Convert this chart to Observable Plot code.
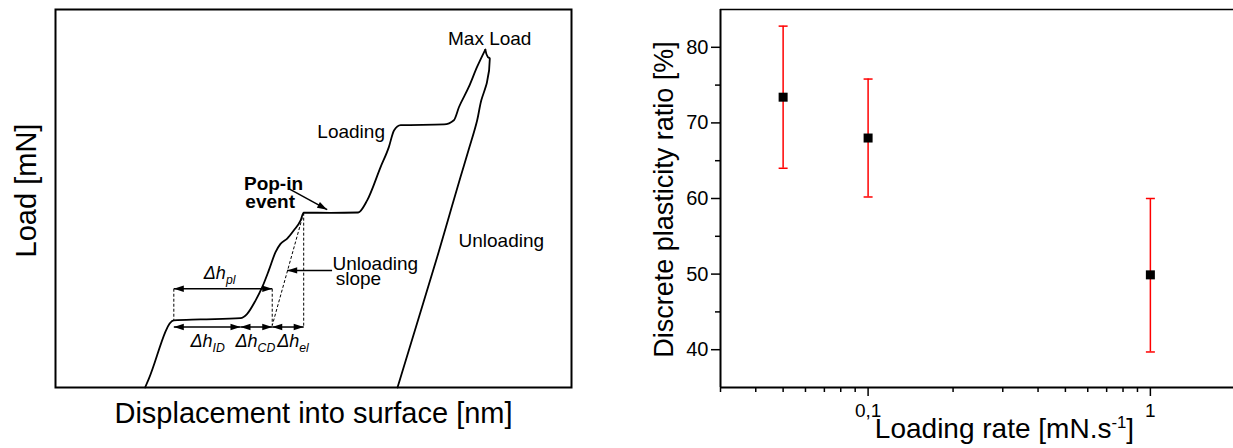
<!DOCTYPE html>
<html><head><meta charset="utf-8">
<script src="https://cdn.jsdelivr.net/npm/d3@7"></script>
<script src="https://cdn.jsdelivr.net/npm/@observablehq/plot@0.6"></script>
<style>
html,body{margin:0;padding:0;background:#fff;overflow:hidden}
#wrap{position:relative;width:1233px;height:448px}
#left,#right{position:absolute;top:0}
#left{left:0}
#right{left:620px}
</style></head><body>
<div id="wrap"><div id="left"></div><div id="right"></div></div>
<script>
// ---------- Left panel: schematic load–displacement curve (arbitrary units 0–100) ----------
const loadDisp = [17.36, 18.08, 22.93, 28.1, 35.85, 37.15, 38.76, 40.06, 41.34, 42.64, 43.6, 44.9, 46.2, 47.5, 48.1, 53.3, 58.66, 60.4, 63.0, 64.6, 65.6, 66.9, 75.3, 77.2, 78.2, 80.1, 81.7, 83.3];
const loadLoad = [0, 2.3, 17.74, 18.0, 18.35, 19.5, 23.0, 26.55, 30.98, 35.8, 38.0, 39.4, 41.6, 44.2, 46.25, 46.2, 46.3, 49.5, 58.3, 63.6, 68.0, 69.4, 69.6, 70.7, 74.2, 79.5, 84.8, 89.4];
const unloadDisp = [83.3, 83.78, 84.17, 83.6, 82.52, 81.72, 80.04, 78.49, 76.26, 73.97, 70.06, 66.28];
const unloadLoad = [89.4, 87.45, 87.03, 80.6, 75.99, 70.69, 62.75, 55.68, 45.27, 34.5, 16.94, 0];

// dashed construction lines
const guideX1 = [22.93, 42.0, 48.1, 48.1];
const guideY1 = [26.13, 26.13, 46.25, 46.25];
const guideX2 = [22.93, 42.0, 48.1, 42.0];
const guideY2 = [17.74, 16.4, 16.0, 16.4];

// double-headed dimension arrows
const dblArrowX1 = [22.93, 22.93, 35.85, 42.0];
const dblArrowX2 = [42.0, 35.85, 42.0, 48.1];
const dblArrowY  = [26.13, 16.0, 16.0, 16.0];

// single arrows (pointer to pop-in, pointer to unloading slope)
const arrowX1 = [45.2, 53.6];
const arrowY1 = [52.6, 30.98];
const arrowX2 = [52.65, 44.9];
const arrowY2 = [47.05, 30.98];

// labels
const centerLabels = ["Max Load", "Loading", "Unloading"];
const centerLabelX = [84.15, 57.3, 86.4];
const centerLabelY = [90.55, 66.1, 37.15];
const boldLabels = ["Pop-in", "event"];
const boldLabelX = [42.25, 41.6];
const boldLabelY = [52.3, 47.4];
const startLabels = ["Unloading", "slope"];
const startLabelX = [53.68, 54.3];
const startLabelY = [31.1, 27.1];
const deltaLabels = ["Δh|pl", "Δh|ID", "Δh|CD", "Δh|el"];
const deltaLabelX = [28.74, 26.16, 34.88, 42.97];
const deltaLabelY = [28.78, 10.67, 10.67, 10.67];

// ---------- Right panel: discrete plasticity ratio vs loading rate ----------
const rates = [0.05, 0.1, 1];
const ratio = [73.4, 68.0, 49.9];
const errLow = [64.0, 60.2, 39.7];
const errHigh = [82.8, 75.8, 60.0];
const yTicks = [40, 50, 60, 70, 80];
const yMinorTicks = [45, 55, 65, 75];
const xMajorTicks = [0.1, 1];
const xMajorLabels = ["0,1", "1"];
const xMinorTicks = [0.03, 0.04, 0.05, 0.06, 0.07, 0.08, 0.09, 0.2, 0.3, 0.4, 0.5, 0.6, 0.7, 0.8, 0.9];

const FONT = "'Liberation Sans', Arial, sans-serif";

// ---- build left ----
const LW = 620, LH = 448, LML = 55, LMR = 49, LMT = 9, LMB = 61;
const kx = (LW - LML - LMR) / 100, ky = (LH - LMT - LMB) / 100;

const loading = loadDisp.map((d, i) => ({d, l: loadLoad[i]}));
const unloading = unloadDisp.map((d, i) => ({d, l: unloadLoad[i]}));
const guides = guideX1.map((x, i) => ({x1: x, y1: guideY1[i], x2: guideX2[i], y2: guideY2[i]}));
const shafts = [
  ...dblArrowX1.map((x, i) => ({x1: x, y1: dblArrowY[i], x2: dblArrowX2[i], y2: dblArrowY[i]})),
  ...arrowX1.map((x, i) => ({x1: x, y1: arrowY1[i], x2: arrowX2[i], y2: arrowY2[i]}))
];
const heads = [];
dblArrowX1.forEach((x, i) => {
  heads.push({x: x, y: dblArrowY[i], a: 180});
  heads.push({x: dblArrowX2[i], y: dblArrowY[i], a: 0});
});
arrowX1.forEach((x, i) => {
  const dxp = (arrowX2[i] - x) * kx, dyp = -(arrowY2[i] - arrowY1[i]) * ky;
  heads.push({x: arrowX2[i], y: arrowY2[i], a: Math.atan2(dyp, dxp) * 180 / Math.PI});
});
const headSymbol = {draw(ctx) { ctx.moveTo(0, 0); ctx.lineTo(-10, -3.2); ctx.lineTo(-10, 3.2); ctx.closePath(); }};

const lab = (arr, X, Y) => arr.map((t, i) => ({t, x: X[i], y: Y[i]}));

const left = Plot.plot({
  width: LW, height: LH, marginLeft: LML, marginRight: LMR, marginTop: LMT, marginBottom: LMB,
  style: {fontFamily: FONT, color: "#000", background: "transparent"},
  x: {domain: [0, 100], axis: null},
  y: {domain: [0, 100], axis: null},
  marks: [
    Plot.frame({stroke: "#000", strokeWidth: 2}),
    Plot.link(guides, {x1: "x1", y1: "y1", x2: "x2", y2: "y2", stroke: "#000", strokeWidth: 1, strokeDasharray: "3,2"}),
    Plot.line(loading, {x: "d", y: "l", curve: "monotone-x", stroke: "#000", strokeWidth: 1.8}),
    Plot.line(unloading, {x: "d", y: "l", curve: "monotone-y", stroke: "#000", strokeWidth: 1.8}),
    Plot.link(shafts, {x1: "x1", y1: "y1", x2: "x2", y2: "y2", stroke: "#000", strokeWidth: 1.5}),
    Plot.dot(heads, {x: "x", y: "y", rotate: "a", symbol: headSymbol, fill: "#000", stroke: null, r: 4}),
    Plot.text(lab(centerLabels, centerLabelX, centerLabelY), {x: "x", y: "y", text: "t", lineAnchor: "bottom", textAnchor: "middle", fontSize: 19, fill: "#000"}),
    Plot.text(lab(boldLabels, boldLabelX, boldLabelY), {x: "x", y: "y", text: "t", lineAnchor: "bottom", textAnchor: "middle", fontSize: 19, fontWeight: "bold", fill: "#000"}),
    Plot.text(lab(startLabels, startLabelX, startLabelY), {x: "x", y: "y", text: "t", lineAnchor: "bottom", textAnchor: "start", fontSize: 19, fill: "#000"}),
    Plot.text(lab(deltaLabels, deltaLabelX, deltaLabelY), {x: "x", y: "y", text: "t", lineAnchor: "bottom", textAnchor: "start", fontSize: 18, fontStyle: "italic", fill: "#000"}),
    Plot.text(["Load [mN]"], {text: d => d, frameAnchor: "left", rotate: -90, lineAnchor: "bottom", textAnchor: "middle", dx: -20, dy: -8, fontSize: 29, fill: "#000"}),
    Plot.text(["Displacement into surface [nm]"], {text: d => d, frameAnchor: "bottom", lineAnchor: "bottom", textAnchor: "middle", dy: 35, fontSize: 29, fill: "#000"})
  ]
});

// ---- build right ----
const pts = rates.map((r, i) => ({rate: r, ratio: ratio[i], lo: errLow[i], hi: errHigh[i]}));
const capSymbol = {draw(ctx, size) { const h = Math.sqrt(size / Math.PI); ctx.moveTo(-h, 0); ctx.lineTo(h, 0); }};

const right = Plot.plot({
  width: 613, height: 448, marginLeft: 100, marginRight: 0, marginTop: 9, marginBottom: 61,
  style: {fontFamily: FONT, color: "#000", background: "transparent"},
  x: {type: "log", domain: [0.03, 1.97], axis: null, label: null},
  y: {domain: [35, 85], axis: null, label: null},
  marks: [
    Plot.axisY(yTicks, {anchor: "left", tickSize: 9, tickPadding: 3, fontSize: 20, strokeWidth: 1.5, tickFormat: d => String(d), label: null}),
    Plot.axisY(yMinorTicks, {anchor: "left", tickSize: 5, strokeWidth: 1.5, tickFormat: () => "", label: null}),
    Plot.axisX(xMajorTicks, {anchor: "bottom", tickSize: 9, tickPadding: 7, fontSize: 19, strokeWidth: 1.5, tickFormat: d => xMajorLabels[xMajorTicks.indexOf(d)], label: null}),
    Plot.axisX(xMinorTicks, {anchor: "bottom", tickSize: 5, strokeWidth: 1.5, tickFormat: () => "", label: null}),
    Plot.ruleY([85], {stroke: "#000", strokeWidth: 1.5}),
    Plot.ruleY([35], {stroke: "#000", strokeWidth: 2}),
    Plot.ruleX([0.03], {stroke: "#000", strokeWidth: 2}),
    Plot.ruleX(pts, {x: "rate", y1: "lo", y2: "hi", stroke: "#ff0000", strokeWidth: 1.5}),
    Plot.dot(pts, {x: "rate", y: "lo", symbol: capSymbol, r: 4.5, stroke: "#ff0000", strokeWidth: 1.5}),
    Plot.dot(pts, {x: "rate", y: "hi", symbol: capSymbol, r: 4.5, stroke: "#ff0000", strokeWidth: 1.5}),
    Plot.dot(pts, {x: "rate", y: "ratio", symbol: "square", r: 5.08, fill: "#000", stroke: null}),
    Plot.text(["Discrete plasticity ratio [%]"], {text: d => d, frameAnchor: "left", rotate: -90, lineAnchor: "bottom", textAnchor: "middle", dx: -48, dy: 1, fontSize: 27, fill: "#000"}),
    Plot.text(["Loading rate [mN.s^-1^]"], {text: d => d, frameAnchor: "bottom", lineAnchor: "bottom", textAnchor: "middle", dx: 27.5, dy: 50, fontSize: 28, fill: "#000"})
  ]
});

// rich text: subscripts (a|b) and superscripts (a^b^c)
function richText(svg) {
  d3.select(svg).selectAll("text").each(function () {
    const t = this.textContent;
    const sel = d3.select(this);
    if (t.includes("|")) {
      const [main, sub] = t.split("|");
      sel.text(null);
      sel.append("tspan").text(main);
      sel.append("tspan").attr("dy", 5).attr("font-size", "0.68em").text(sub);
    } else if (t.includes("^")) {
      const [a, sup, b] = t.split("^");
      sel.text(null);
      sel.append("tspan").text(a);
      sel.append("tspan").attr("dy", -10).attr("font-size", "0.6em").text(sup);
      sel.append("tspan").attr("dy", 10).text(b);
    }
  });
}
richText(left);
richText(right);

document.getElementById("left").appendChild(left);
document.getElementById("right").appendChild(right);
</script>
</body></html>
